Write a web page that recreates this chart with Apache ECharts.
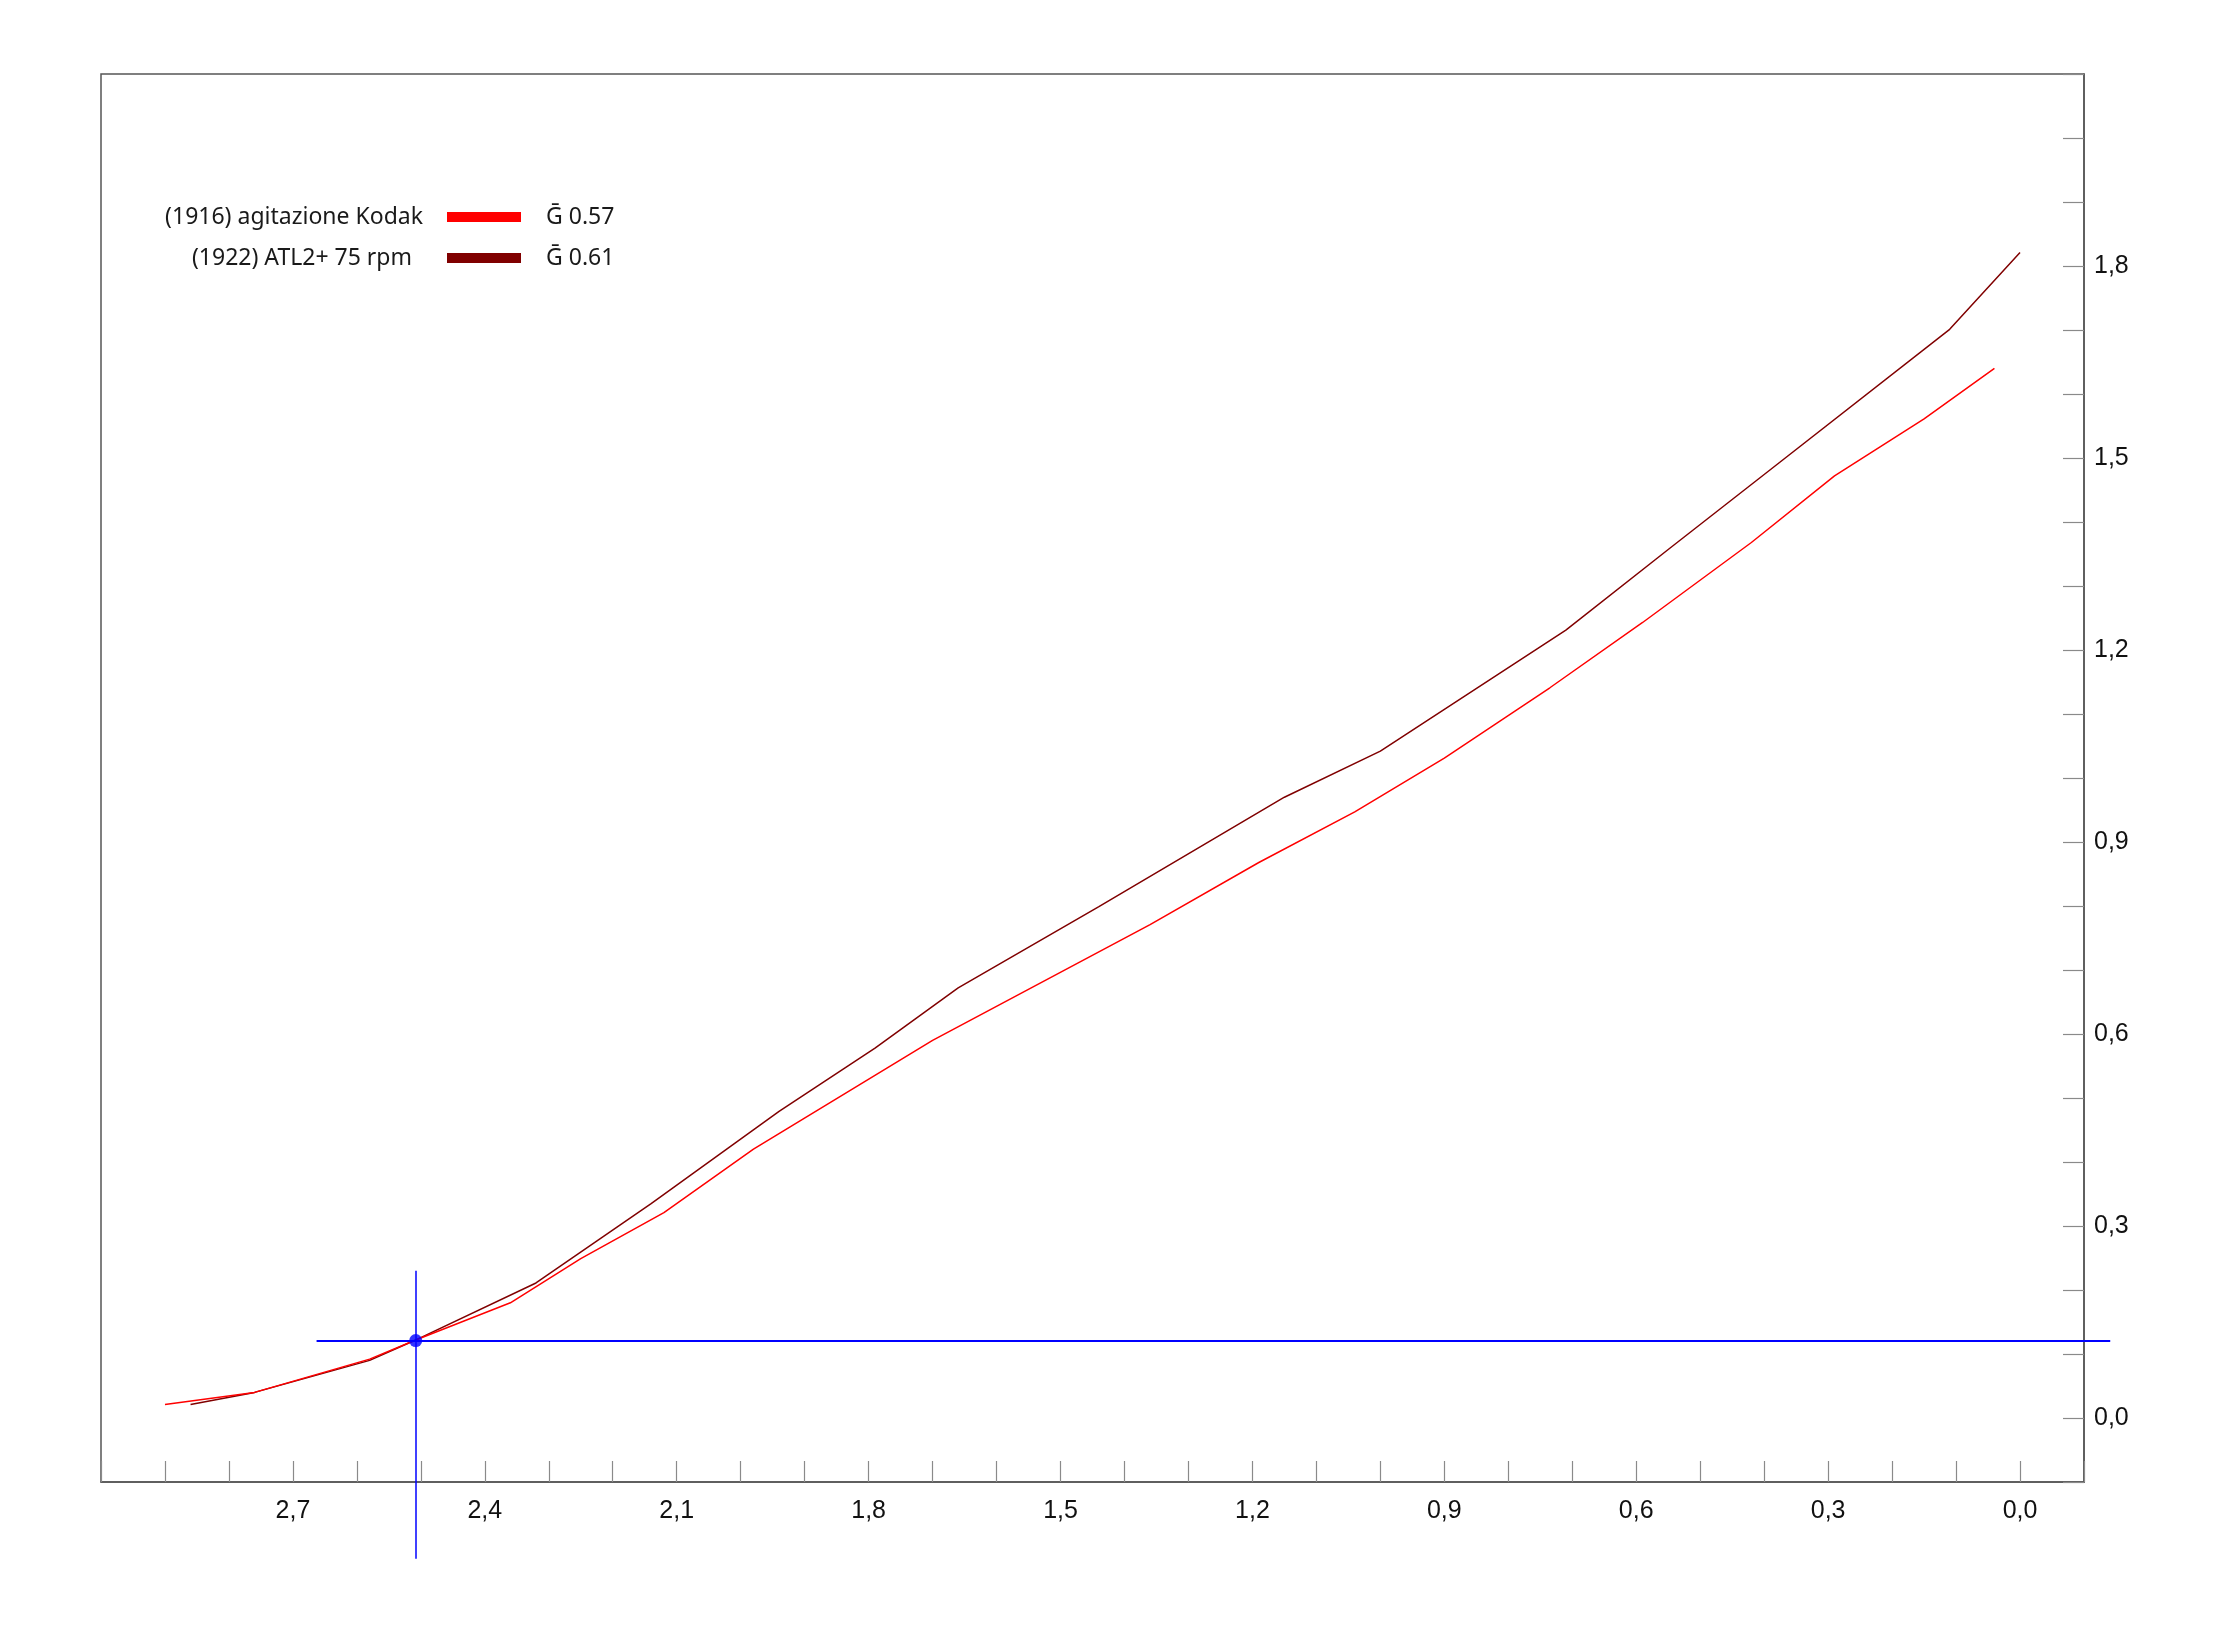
<!DOCTYPE html>
<html>
<head>
<meta charset="utf-8">
<script src="https://cdn.jsdelivr.net/npm/echarts@6/dist/echarts.min.js"></script>
<style>
html,body{margin:0;padding:0;background:#fff;}
#chart{width:2234px;height:1635px;}
</style>
</head>
<body>
<div id="chart"></div>
<script>
// ---- data ----
const seriesNames = ['(1916) agitazione Kodak', '(1922) ATL2+ 75 rpm'];
const gammaLabels = ['Ḡ 0.57', 'Ḡ 0.61'];
const seriesColors = ['#ff0000', '#800000'];

const kodakX = [2.90, 2.76, 2.58, 2.51, 2.36, 2.25, 2.12, 1.98, 1.70, 1.36, 1.19, 1.04, 0.90, 0.735, 0.59, 0.42, 0.29, 0.15, 0.04];
const kodakY = [0.021, 0.040, 0.092, 0.121, 0.180, 0.249, 0.321, 0.420, 0.590, 0.771, 0.868, 0.947, 1.031, 1.141, 1.243, 1.368, 1.472, 1.561, 1.640];

const atlX = [2.86, 2.76, 2.58, 2.51, 2.32, 2.14, 1.94, 1.79, 1.66, 1.44, 1.15, 1.00, 0.71, 0.55, 0.39, 0.11, 0.00];
const atlY = [0.021, 0.040, 0.090, 0.121, 0.211, 0.335, 0.479, 0.578, 0.672, 0.799, 0.970, 1.042, 1.231, 1.357, 1.482, 1.701, 1.821];

const markPoint = [2.508, 0.121];
const hLineX = [2.663, -0.141];
const vLineY = [0.23, -0.22];

const xLabelValues = [2.7, 2.4, 2.1, 1.8, 1.5, 1.2, 0.9, 0.6, 0.3, 0.0];
const yLabelValues = [0.0, 0.3, 0.6, 0.9, 1.2, 1.5, 1.8];

// ---- helpers ----
function zip(xs, ys){ return xs.map((x,i)=>[x, ys[i]]); }
function labeler(list){
  return function(v){
    const r = Math.round(v*10)/10;
    return list.some(t=>Math.abs(t-r)<1e-6) ? r.toFixed(1).replace('.', ',') : '';
  };
}

const chart = echarts.init(document.getElementById('chart'));
const fontLegend = '"Noto Sans", "Open Sans", sans-serif';

const option = {
  animation: false,
  backgroundColor: '#ffffff',
  grid: {
    left: 101, right: 150, top: 74, bottom: 153,
    show: true, borderColor: '#555555', borderWidth: 1.5, backgroundColor: 'transparent'
  },
  xAxis: {
    type: 'value', inverse: true, min: -0.1, max: 3.0, interval: 0.1,
    axisLine: {show: true, onZero: false, lineStyle: {color: '#555555', width: 1.5}},
    axisTick: {show: true, inside: true, length: 21, lineStyle: {color: '#8a8a8a', width: 1.2}},
    splitLine: {show: false},
    axisLabel: {show: true, formatter: labeler(xLabelValues), margin: 17,
      fontFamily: '"Liberation Sans", Arial, sans-serif', fontSize: 25, color: '#111111'}
  },
  yAxis: {
    type: 'value', position: 'right', min: -0.1, max: 2.1, interval: 0.1,
    axisLine: {show: true, onZero: false, lineStyle: {color: '#555555', width: 1.5}},
    axisTick: {show: true, inside: true, length: 21, lineStyle: {color: '#8a8a8a', width: 1.2}},
    splitLine: {show: false},
    axisLabel: {show: true, formatter: labeler(yLabelValues), margin: 10,
      fontFamily: '"Liberation Sans", Arial, sans-serif', fontSize: 25, color: '#111111'}
  },
  legend: [
    {
      data: [seriesNames[0]], orient: 'vertical', align: 'right', right: 1713, top: 203,
      padding: 0, icon: 'rect', itemWidth: 74, itemHeight: 10,
      textStyle: {fontFamily: fontLegend, fontSize: 23, color: '#1a1a1a', lineHeight: 28, padding: [0, 19, 0, 0]},
      itemStyle: {color: seriesColors[0]}
    },
    {
      data: [seriesNames[1]], orient: 'vertical', align: 'right', right: 1713, top: 244,
      padding: 0, icon: 'rect', itemWidth: 74, itemHeight: 10,
      textStyle: {fontFamily: fontLegend, fontSize: 23, color: '#1a1a1a', lineHeight: 28, padding: [0, 30, 0, 0]},
      itemStyle: {color: seriesColors[1]}
    }
  ],
  graphic: [
    {type: 'text', left: 546, top: 203, style: {text: gammaLabels[0], fontFamily: fontLegend, fontSize: 23, fill: '#1a1a1a', lineHeight: 28}},
    {type: 'text', left: 546, top: 244, style: {text: gammaLabels[1], fontFamily: fontLegend, fontSize: 23, fill: '#1a1a1a', lineHeight: 28}}
  ],
  series: [
    {
      name: seriesNames[0], type: 'line', data: zip(kodakX, kodakY),
      symbol: 'none', lineStyle: {color: seriesColors[0], width: 1.5}, itemStyle: {color: seriesColors[0]}, z: 3
    },
    {
      name: seriesNames[1], type: 'line', data: zip(atlX, atlY),
      symbol: 'none', lineStyle: {color: seriesColors[1], width: 1.5}, itemStyle: {color: seriesColors[1]}, z: 2
    },
    {
      name: 'crosshair', type: 'lines', coordinateSystem: 'cartesian2d', clip: false, silent: true, z: 4,
      data: [
        {coords: [[hLineX[0], markPoint[1]], [hLineX[1], markPoint[1]]], lineStyle: {width: 1.8}},
        {coords: [[markPoint[0], vLineY[0]], [markPoint[0], vLineY[1]]], lineStyle: {width: 1.5}}
      ],
      lineStyle: {color: '#0000ff', opacity: 1, curveness: 0}
    },
    {
      name: 'point', type: 'scatter', clip: false, data: [markPoint],
      symbol: 'circle', symbolSize: 13, itemStyle: {color: '#0000ff'}, z: 5, silent: true
    }
  ]
};
chart.setOption(option);
</script>
</body>
</html>
